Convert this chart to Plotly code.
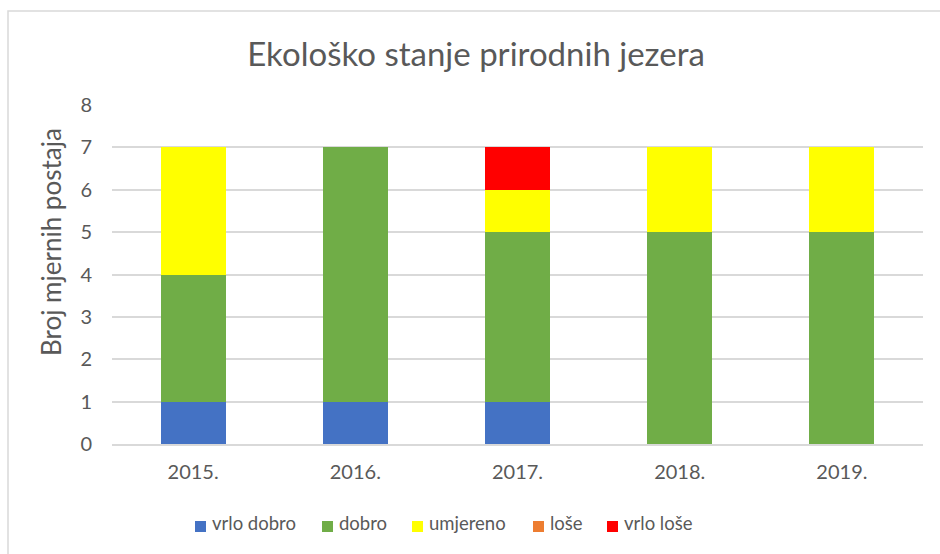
import plotly.graph_objects as go

years = ["2015.", "2016.", "2017.", "2018.", "2019."]
vrlo_dobro = [1, 1, 1, 0, 0]
dobro = [3, 6, 4, 5, 5]
umjereno = [3, 0, 1, 2, 2]
lose = [0, 0, 0, 0, 0]
vrlo_lose = [0, 0, 1, 0, 0]

series_names = ["vrlo dobro", "dobro", "umjereno", "loše", "vrlo loše"]
series_values = [vrlo_dobro, dobro, umjereno, lose, vrlo_lose]
colors = ["#4472C4", "#70AD47", "#FFFF00", "#ED7D31", "#FF0000"]

FONT = "Lato, 'Open Sans', sans-serif"
TXT = "#595959"
W, H = 940, 554
L, R, T, B = 112, 17, 105, 110
pw, ph = W - L - R, H - T - B

fig = go.Figure()
for name, vals, col in zip(series_names, series_values, colors):
    fig.add_trace(go.Bar(x=years, y=vals, name=name, marker=dict(color=col, line=dict(width=0))))

def px_x(x):
    return (x - L) / pw

def px_y(y):
    return (H - B - y) / ph

shapes = [
    dict(type="rect", xref="paper", yref="paper", x0=px_x(8), y0=-1, x1=2, y1=px_y(11),
         line=dict(color="#d9d9d9", width=1.5), fillcolor="rgba(0,0,0,0)", layer="below"),
]
annotations = [
    dict(text="Broj mjernih postaja", xref="paper", yref="paper", x=px_x(51), y=px_y(242),
         textangle=-90, showarrow=False, font=dict(family=FONT, size=26, color=TXT),
         xanchor="center", yanchor="middle"),
]

# legend (manual, to match spacing)
legend_sq = [195, 322, 412, 533, 607]
for name, col, sx in zip(series_names, colors, legend_sq):
    shapes.append(dict(type="rect", xref="paper", yref="paper", x0=px_x(sx), x1=px_x(sx + 11),
                       y0=px_y(532), y1=px_y(521), fillcolor=col, line=dict(width=0)))
    annotations.append(dict(text=name, xref="paper", yref="paper", x=px_x(sx + 15), y=px_y(523),
                            showarrow=False, xanchor="left", yanchor="middle",
                            font=dict(family=FONT, size=18.5, color=TXT)))

fig.update_layout(
    width=W, height=H,
    margin=dict(l=L, r=R, t=T, b=B, pad=0),
    barmode="stack", bargap=0.6,
    showlegend=False,
    paper_bgcolor="white", plot_bgcolor="white",
    title=dict(text="Ekološko stanje prirodnih jezera", xref="container", x=476 / W, xanchor="center",
               yref="container", y=1 - 54 / H, yanchor="middle",
               font=dict(family=FONT, size=33, color=TXT)),
    font=dict(family=FONT, color=TXT),
    xaxis=dict(showgrid=False, showline=True, linecolor="#d9d9d9", linewidth=1.5,
               tickfont=dict(size=20, color=TXT), ticks="", ticklabelstandoff=9),
    yaxis=dict(range=[0, 8], dtick=1, showgrid=True, gridcolor="#d9d9d9", gridwidth=1.5,
               zeroline=False, showline=False, tickfont=dict(size=20, color=TXT),
               ticks="", ticklabelstandoff=19),
    shapes=shapes, annotations=annotations,
)

fig.write_html("out.html", config={"displayModeBar": False},
               post_script="document.body.style.margin='0';")
